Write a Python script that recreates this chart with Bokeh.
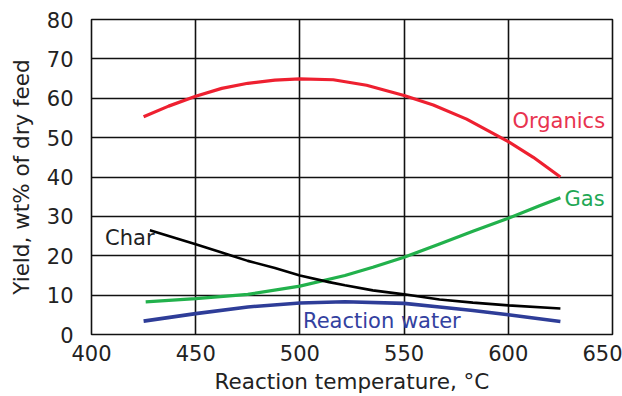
from bokeh.plotting import figure
from bokeh.models import FixedTicker
from bokeh.core.properties import value
from bokeh.embed import file_html
from bokeh.resources import INLINE

# Data
organics_x = [425, 437, 450, 462.5, 475, 488, 500, 516, 532, 550, 564, 580, 600, 612, 625]
organics_y = [55.3, 58.0, 60.5, 62.5, 63.8, 64.6, 64.9, 64.7, 63.3, 60.7, 58.3, 54.7, 49.0, 45.0, 40.0]

gas_x = [426, 450, 475, 500, 521.6, 535, 550, 567, 583, 600, 615, 625]
gas_y = [8.3, 9.1, 10.2, 12.3, 15.0, 17.1, 19.6, 23.0, 26.2, 29.5, 32.7, 34.7]

char_x = [428, 450, 462.5, 475, 488, 500, 514, 521.6, 535, 550, 567, 583, 600, 625]
char_y = [26.5, 22.9, 20.8, 18.7, 16.9, 15.0, 13.3, 12.5, 11.2, 10.2, 8.9, 8.1, 7.4, 6.6]

water_x = [425, 450, 475, 500, 521.6, 550, 567, 583, 600, 625]
water_y = [3.4, 5.3, 7.0, 8.0, 8.3, 7.9, 7.0, 6.1, 5.0, 3.3]

x_ticks = [400, 450, 500, 550, 600, 650]
y_ticks = [0, 10, 20, 30, 40, 50, 60, 70, 80]

label_text = ["Organics", "Gas", "Char", "Reaction water"]
label_x = [602.0, 627.0, 406.5, 501.5]
label_y = [54.2, 34.5, 24.4, 3.5]
label_color = ["#e8334f", "#1fa855", "#222222", "#3341a0"]

FONT = "DejaVu Sans"

p = figure(width=622, height=396, output_backend="svg", toolbar_location=None,
           x_range=(400, 650), y_range=(0, 80),
           min_border_left=91, min_border_right=10, min_border_top=19,
           min_border_bottom=59)

p.outline_line_color = "#111111"
p.outline_line_width = 1.6
p.background_fill_color = "white"
p.border_fill_color = "white"

for ax in (p.xaxis, p.yaxis):
    ax.axis_line_color = None
    ax.major_tick_in = 0
    ax.major_tick_out = 0
    ax.minor_tick_line_color = None
    ax.major_label_text_font = FONT
    ax.major_label_text_font_size = "21px"
    ax.major_label_text_color = "#222222"
    ax.axis_label_text_font = FONT
    ax.axis_label_text_font_size = "21.5px"
    ax.axis_label_text_font_style = "normal"
    ax.axis_label_text_color = "#222222"

p.xaxis.ticker = FixedTicker(ticks=x_ticks)
p.yaxis.ticker = FixedTicker(ticks=y_ticks)
p.xaxis.axis_label = "Reaction temperature, °C"
p.yaxis.axis_label = "Yield, wt% of dry feed"
p.xaxis.major_label_standoff = 10
p.yaxis.major_label_standoff = 18
p.xaxis.axis_label_standoff = 5
p.yaxis.axis_label_standoff = 10

p.xgrid.ticker = FixedTicker(ticks=x_ticks)
p.ygrid.ticker = FixedTicker(ticks=y_ticks)
for g in (p.xgrid, p.ygrid):
    g.grid_line_color = "#111111"
    g.grid_line_width = 1.6
    g.grid_line_alpha = 1.0

p.line(organics_x, organics_y, line_color="#ee2030", line_width=3.2)
p.line(gas_x, gas_y, line_color="#22b14c", line_width=3.2)
p.line(char_x, char_y, line_color="#000000", line_width=2.6)
p.line(water_x, water_y, line_color="#2e3d98", line_width=3.6)

p.text(x=label_x, y=label_y, text=label_text, text_color=label_color,
       text_font=value(FONT), text_font_size="21px",
       text_align="left", text_baseline="middle")

open("out.html", "w").write(file_html(p, INLINE))
